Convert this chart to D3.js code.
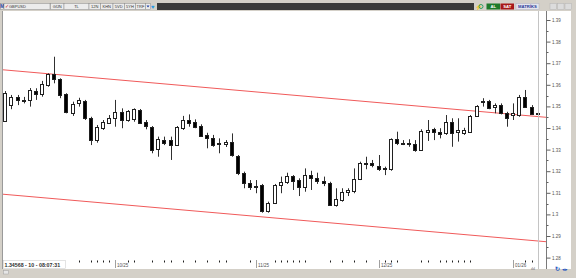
<!DOCTYPE html>
<html>
<head>
<meta charset="utf-8">
<script src="https://cdn.jsdelivr.net/npm/d3@7"></script>
<style>
  body { margin: 0; background: #d4d0c8; overflow: hidden; }
  svg { display: block; }
</style>
</head>
<body>
<div id="chart"></div>
<script>
// GBPUSD daily candles
const opens = [1.3432, 1.3506, 1.3542, 1.3530, 1.3530, 1.3573, 1.3556, 1.3599, 1.3649, 1.3625,
  1.3556, 1.3468, 1.3514, 1.3526, 1.3445, 1.3341, 1.3403, 1.3425, 1.3445, 1.3475,
  1.3437, 1.3440, 1.3483, 1.3426, 1.3406, 1.3301, 1.3344, 1.3344, 1.3321, 1.3399,
  1.3437, 1.3429, 1.3409, 1.3368, 1.3355, 1.3327, 1.3325, 1.3337, 1.3272, 1.3193,
  1.3147, 1.3131, 1.3136, 1.3013, 1.3051, 1.3136, 1.3151, 1.3179, 1.3159, 1.3128,
  1.3182, 1.3167, 1.3155, 1.3147, 1.3044, 1.3070, 1.3105, 1.3108, 1.3163, 1.3237,
  1.3239, 1.3225, 1.3213, 1.3209, 1.3348, 1.3332, 1.3332, 1.3325, 1.3298, 1.3380,
  1.3394, 1.3383, 1.3375, 1.3426, 1.3380, 1.3378, 1.3383, 1.3456, 1.3522, 1.3525,
  1.3496, 1.3506, 1.3468, 1.3460, 1.3460, 1.3545, 1.3499, 1.3468]
const highs = [1.3571, 1.3553, 1.3553, 1.3544, 1.3585, 1.3584, 1.3618, 1.3653, 1.3730, 1.3630,
  1.3561, 1.3522, 1.3540, 1.3530, 1.3452, 1.3414, 1.3437, 1.3460, 1.3530, 1.3491,
  1.3483, 1.3491, 1.3488, 1.3437, 1.3409, 1.3360, 1.3360, 1.3360, 1.3409, 1.3456,
  1.3463, 1.3440, 1.3417, 1.3378, 1.3368, 1.3352, 1.3344, 1.3375, 1.3275, 1.3198,
  1.3159, 1.3159, 1.3141, 1.3059, 1.3141, 1.3175, 1.3193, 1.3182, 1.3167, 1.3213,
  1.3202, 1.3193, 1.3175, 1.3151, 1.3121, 1.3121, 1.3121, 1.3213, 1.3244, 1.3267,
  1.3252, 1.3275, 1.3221, 1.3352, 1.3383, 1.3344, 1.3348, 1.3344, 1.3394, 1.3437,
  1.3401, 1.3399, 1.3460, 1.3445, 1.3445, 1.3401, 1.3460, 1.3506, 1.3538, 1.3530,
  1.3514, 1.3514, 1.3475, 1.3514, 1.3553, 1.3576, 1.3506, 1.3473]
const lows = [1.3428, 1.3487, 1.3506, 1.3514, 1.3499, 1.3530, 1.3545, 1.3591, 1.3607, 1.3538,
  1.3468, 1.3456, 1.3499, 1.3437, 1.3321, 1.3332, 1.3391, 1.3419, 1.3406, 1.3399,
  1.3429, 1.3429, 1.3419, 1.3394, 1.3283, 1.3267, 1.3321, 1.3252, 1.3317, 1.3391,
  1.3406, 1.3399, 1.3360, 1.3306, 1.3313, 1.3283, 1.3312, 1.3267, 1.3182, 1.3121,
  1.3113, 1.3098, 1.3008, 1.3008, 1.3048, 1.3098, 1.3141, 1.3113, 1.3085, 1.3105,
  1.3113, 1.3141, 1.3131, 1.3044, 1.3036, 1.3059, 1.3085, 1.3098, 1.3159, 1.3209,
  1.3218, 1.3201, 1.3182, 1.3202, 1.3321, 1.3321, 1.3313, 1.3290, 1.3294, 1.3340,
  1.3344, 1.3352, 1.3368, 1.3313, 1.3337, 1.3368, 1.3378, 1.3452, 1.3499, 1.3487,
  1.3468, 1.3463, 1.3406, 1.3437, 1.3452, 1.3494, 1.3460, 1.3462]
const closes = [1.3561, 1.3545, 1.3526, 1.3525, 1.3576, 1.3561, 1.3602, 1.3649, 1.3625, 1.3553,
  1.3471, 1.3510, 1.3530, 1.3445, 1.3344, 1.3403, 1.3429, 1.3448, 1.3475, 1.3437,
  1.3479, 1.3487, 1.3422, 1.3406, 1.3298, 1.3348, 1.3332, 1.3321, 1.3406, 1.3437,
  1.3422, 1.3406, 1.3363, 1.3352, 1.3321, 1.3331, 1.3334, 1.3275, 1.3193, 1.3147,
  1.3128, 1.3128, 1.3017, 1.3051, 1.3136, 1.3151, 1.3179, 1.3156, 1.3128, 1.3182,
  1.3170, 1.3151, 1.3147, 1.3047, 1.3070, 1.3105, 1.3113, 1.3163, 1.3239, 1.3239,
  1.3232, 1.3209, 1.3210, 1.3348, 1.3329, 1.3329, 1.3326, 1.3298, 1.3388, 1.3391,
  1.3380, 1.3372, 1.3426, 1.3375, 1.3391, 1.3391, 1.3456, 1.3502, 1.3526, 1.3491,
  1.3506, 1.3468, 1.3445, 1.3468, 1.3545, 1.3499, 1.3468, 1.3465]

// axis labels
const priceTicks = [1.39, 1.38, 1.37, 1.36, 1.35, 1.34, 1.33, 1.32, 1.31, 1.30, 1.29, 1.28]
const monthLabels = ['10/25', '11/25', '12/25', '01/26']
const monthStarts = [18, 41, 61, 83]
const dayTicks = [12, 14, 15, 16, 17, 20, 21, 24, 26, 27, 29, 31, 33, 35, 36, 40, 44, 45, 46,
  47, 48, 49, 53, 55, 57, 59, 62, 63, 64, 68, 69, 71, 72, 73, 74, 75, 76, 85, 86]

// channel lines: [start, end] in candle index / price
const channelIdx = [-1, 89]
const channelUpper = [1.3671, 1.3448]
const channelLower = [1.3095, 1.2872]

const symbol = 'GBPUSD'
const toolbarFields = ['GÜN', 'TL', '12N', 'KHN', '5VD', '5YH', 'TRF']
const infoText = '1.34568 - 10 - 08:07:31'

const width = 576,
  height = 278,
  plotLeft = 3,
  plotTop = 11,
  plotRight = 546.5,
  plotBottom = 259,
  font = 'Liberation Sans, Arial, sans-serif'

let svg = d3.select('#chart')
  .append('svg')
  .attr('width', width)
  .attr('height', height)

// frame
svg.append('rect').attr('width', width).attr('height', height).attr('fill', '#d4d0c8')
svg.append('rect')
  .attr('x', plotLeft).attr('y', plotTop)
  .attr('width', 571 - plotLeft).attr('height', 269 - plotTop)
  .attr('fill', '#ffffff')
svg.append('line')
  .attr('x1', 2.5).attr('x2', 2.5).attr('y1', plotTop).attr('y2', 269)
  .attr('stroke', '#9a9a9a')

// toolbar
const bar = svg.append('g')
bar.append('rect').attr('x', 157).attr('y', 3).attr('width', 317).attr('height', 7).attr('fill', '#3a3a3a')
bar.append('rect').attr('x', 0.5).attr('y', 3.5).attr('width', 3).attr('height', 6)
  .attr('fill', '#e8e8e8').attr('stroke', '#8a8a8a').attr('stroke-width', 0.5)
bar.append('text').attr('x', 2).attr('y', 8.3).attr('font-size', 4.5).attr('font-family', font)
  .attr('font-weight', 'bold').attr('fill', '#1a3ca0').attr('text-anchor', 'middle').text('M')
bar.append('rect').attr('x', 4).attr('y', 3.5).attr('width', 46).attr('height', 6)
  .attr('fill', '#ececec').attr('stroke', '#8a8a8a').attr('stroke-width', 0.5)
bar.append('text').attr('x', 5).attr('y', 8.4).attr('font-size', 5).attr('font-family', font)
  .attr('fill', '#d02020').text('✓')
bar.append('text').attr('x', 9).attr('y', 8.2).attr('font-size', 4).attr('font-family', font)
  .attr('fill', '#333').text(symbol)

const fieldX = [50.5, 64, 89, 100.5, 113, 124.5, 135.5, 145.5]
toolbarFields.forEach((t, i) => {
  const x0 = fieldX[i], w = fieldX[i + 1] - fieldX[i]
  bar.append('rect').attr('x', x0).attr('y', 3.5).attr('width', w).attr('height', 6)
    .attr('fill', '#ececec').attr('stroke', '#8a8a8a').attr('stroke-width', 0.5)
  bar.append('text').attr('x', x0 + w / 2).attr('y', 8.2).attr('font-size', 4)
    .attr('font-family', font).attr('text-anchor', 'middle').attr('fill', '#333').text(t)
})
bar.append('rect').attr('x', 145.5).attr('y', 3.5).attr('width', 5).attr('height', 6)
  .attr('fill', '#ececec').attr('stroke', '#8a8a8a').attr('stroke-width', 0.5)
bar.append('path').attr('d', 'M146.5,5.5 L149.5,5.5 L148,7.5 Z').attr('fill', '#1a3ca0')
bar.append('text').attr('x', 151).attr('y', 9).attr('font-size', 6).attr('font-family', font)
  .attr('fill', '#2a9be0').text('♥')

// right side of toolbar
bar.append('text').attr('x', 475).attr('y', 9).attr('font-size', 6).attr('font-family', font)
  .attr('fill', '#e8a020').text('⚡')
bar.append('circle').attr('cx', 481).attr('cy', 6.5).attr('r', 2)
  .attr('fill', 'none').attr('stroke', '#30a060').attr('stroke-width', 1)
bar.append('rect').attr('x', 486.5).attr('y', 3.5).attr('width', 13.5).attr('height', 6).attr('fill', '#1f7a2a')
bar.append('text').attr('x', 493.2).attr('y', 8.3).attr('font-size', 4.2).attr('font-family', font)
  .attr('font-weight', 'bold').attr('text-anchor', 'middle').attr('fill', '#ffffff').text('AL')
bar.append('rect').attr('x', 500.5).attr('y', 3.5).attr('width', 13.5).attr('height', 6).attr('fill', '#a81818')
bar.append('text').attr('x', 507.2).attr('y', 8.3).attr('font-size', 4.2).attr('font-family', font)
  .attr('font-weight', 'bold').attr('text-anchor', 'middle').attr('fill', '#ffffff').text('SAT')
bar.append('rect').attr('x', 516).attr('y', 3.5).attr('width', 23).attr('height', 6)
  .attr('fill', '#e4e4ec').attr('stroke', '#b0b0c0').attr('stroke-width', 0.5)
bar.append('text').attr('x', 527.5).attr('y', 8.3).attr('font-size', 4.2).attr('font-family', font)
  .attr('font-weight', 'bold').attr('text-anchor', 'middle').attr('fill', '#2a3a9a').text('MATRİKS')
;[550, 557.5, 565].forEach(x0 => {
  bar.append('rect').attr('x', x0).attr('y', 3.5).attr('width', 6.5).attr('height', 6)
    .attr('fill', '#dcdcdc').attr('stroke', '#b4b4b4').attr('stroke-width', 0.5)
})

// scales
const xScale = d3.scaleLinear()
  .domain([0, opens.length - 1])
  .range([5.3, 537.7])

const yScale = d3.scaleLinear()
  .domain([1.28, 1.39])
  .range([257.6, 20])

// clip for plot area
svg.append('clipPath').attr('id', 'plotclip')
  .append('rect').attr('x', plotLeft).attr('y', plotTop)
  .attr('width', plotRight - plotLeft).attr('height', plotBottom - plotTop)

const plot = svg.append('g').attr('clip-path', 'url(#plotclip)')

// cursor line at the last bar
const lastX = Math.round(xScale(opens.length - 1)) + 0.5
svg.append('line')
  .attr('x1', lastX).attr('x2', lastX).attr('y1', plotTop).attr('y2', 269)
  .attr('stroke', '#c4c4c4')

// channel
const chLine = d3.line()
  .x(d => xScale(d[0]))
  .y(d => yScale(d[1]))
;[channelUpper, channelLower].forEach(ch => {
  plot.append('path')
    .datum(channelIdx.map((idx, k) => [idx, ch[k]]))
    .attr('d', chLine)
    .attr('fill', 'none')
    .attr('stroke', '#f05a5a')
    .attr('stroke-width', 1)
})

// candles
const candles = plot.selectAll('g.candle')
  .data(opens.map((o, i) => ({ i, o, h: highs[i], l: lows[i], c: closes[i] })))
  .enter()
  .append('g')
  .attr('class', 'candle')

candles.append('line')
  .attr('x1', d => Math.round(xScale(d.i)) + 0.5)
  .attr('x2', d => Math.round(xScale(d.i)) + 0.5)
  .attr('y1', d => yScale(d.h))
  .attr('y2', d => yScale(d.l))
  .attr('stroke', '#303030')

candles.append('rect')
  .attr('x', d => Math.round(xScale(d.i)) - 1.5)
  .attr('width', 3)
  .attr('y', d => Math.round(yScale(Math.max(d.o, d.c))) + 0.5)
  .attr('height', d => Math.max(1, Math.round(yScale(Math.min(d.o, d.c)) - yScale(Math.max(d.o, d.c)))))
  .attr('fill', d => d.c >= d.o ? '#ffffff' : '#000000')
  .attr('stroke', '#202020')
  .attr('stroke-width', 1)

// y axis
svg.append('line')
  .attr('x1', plotRight).attr('x2', plotRight).attr('y1', plotTop).attr('y2', 269)
  .attr('stroke', '#7a7a7a')

const yAxis = d3.axisRight(yScale)
  .tickValues(priceTicks)
  .tickSize(4)
  .tickPadding(1.5)
  .tickFormat(d => d3.format('.2~f')(d))

const yAxisG = svg.append('g')
  .attr('transform', `translate(${plotRight}, 0)`)
  .call(yAxis)
yAxisG.select('.domain').remove()
yAxisG.selectAll('line').attr('stroke', '#606060')
yAxisG.selectAll('text')
  .attr('font-size', 4.5)
  .attr('font-family', font)
  .attr('fill', '#505050')

const minorTicks = priceTicks.slice(1).map(p => p + 0.005)
svg.append('g').selectAll('line')
  .data(minorTicks)
  .enter()
  .append('line')
  .attr('x1', plotRight).attr('x2', plotRight + 2)
  .attr('y1', d => Math.round(yScale(d)) + 0.5)
  .attr('y2', d => Math.round(yScale(d)) + 0.5)
  .attr('stroke', '#606060')

// x axis ticks and month labels
svg.append('g').selectAll('rect')
  .data(dayTicks)
  .enter()
  .append('rect')
  .attr('x', d => Math.round(xScale(d)))
  .attr('y', 260.5)
  .attr('width', 1)
  .attr('height', 2)
  .attr('fill', '#202020')

const months = svg.append('g').selectAll('g')
  .data(monthStarts)
  .enter()
  .append('g')
  .attr('transform', d => `translate(${Math.round(xScale(d)) + 0.5}, 0)`)
months.append('line')
  .attr('y1', 260).attr('y2', 268)
  .attr('stroke', '#a0a0a0')
months.append('text')
  .attr('x', 1.5).attr('y', 266.5)
  .attr('font-size', 4.5)
  .attr('font-family', font)
  .attr('fill', '#505050')
  .text((d, i) => monthLabels[i])

// info box bottom left
svg.append('rect')
  .attr('x', 3.5).attr('y', 260.5).attr('width', 62).attr('height', 8)
  .attr('fill', '#ffffff').attr('stroke', '#c8c8c8').attr('stroke-width', 0.5)
svg.append('text')
  .attr('x', 4.5).attr('y', 267)
  .attr('font-size', 5.3)
  .attr('font-weight', 'bold')
  .attr('font-family', font)
  .attr('fill', '#303030')
  .text(infoText)

// bottom status bar bits
svg.append('rect').attr('x', 3.5).attr('y', 270.5).attr('width', 5).attr('height', 3.5)
  .attr('fill', '#e6e6e6').attr('stroke', '#a0a0a0').attr('stroke-width', 0.5)
svg.append('text').attr('x', 531).attr('y', 270).attr('font-size', 4).attr('font-family', font)
  .attr('fill', '#606060').text('ılıl')
svg.append('text').attr('x', 555).attr('y', 271).attr('font-size', 6).attr('font-family', font)
  .attr('font-weight', 'bold').attr('fill', '#2050c0').text('↻')
svg.append('text').attr('x', 561.5).attr('y', 270.5).attr('font-size', 5).attr('font-family', font)
  .attr('fill', '#2050c0').text('◂▸')
</script>
</body>
</html>
